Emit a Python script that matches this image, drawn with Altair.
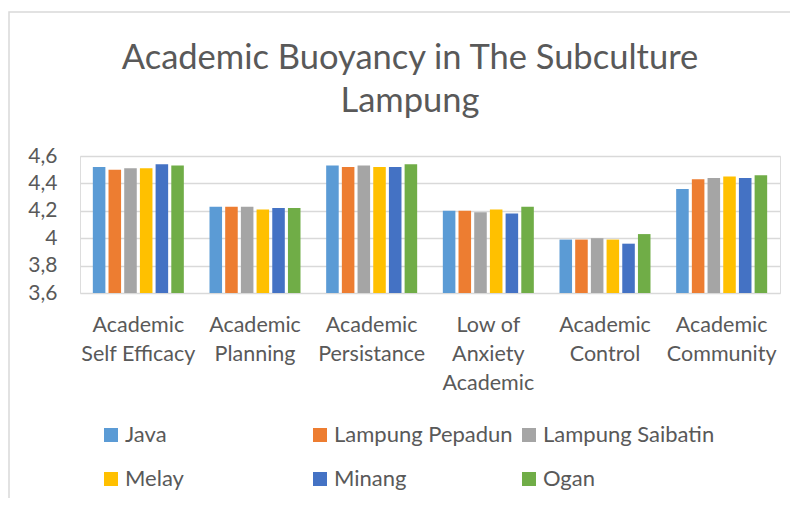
import altair as alt
import pandas as pd

title_lines = ["Academic Buoyancy in The Subculture", "Lampung"]
categories = ["Academic\nSelf Efficacy", "Academic\nPlanning", "Academic\nPersistance",
              "Low of\nAnxiety\nAcademic", "Academic\nControl", "Academic\nCommunity"]
series = ["Java", "Lampung Pepadun", "Lampung Saibatin", "Melay", "Minang", "Ogan"]
colors = ["#5B9BD5", "#ED7D31", "#A5A5A5", "#FFC000", "#4472C4", "#70AD47"]
y_ticks = [3.6, 3.8, 4.0, 4.2, 4.4, 4.6]

java = [4.52, 4.23, 4.53, 4.20, 3.99, 4.36]
lampung_pepadun = [4.50, 4.23, 4.52, 4.20, 3.99, 4.43]
lampung_saibatin = [4.51, 4.23, 4.53, 4.19, 4.00, 4.44]
melay = [4.51, 4.21, 4.52, 4.21, 3.99, 4.45]
minang = [4.54, 4.22, 4.52, 4.18, 3.96, 4.44]
ogan = [4.53, 4.22, 4.54, 4.23, 4.03, 4.46]

values = [java, lampung_pepadun, lampung_saibatin, melay, minang, ogan]
rows = []
for s, vals in zip(series, values):
    for c, v in zip(categories, vals):
        rows.append({"category": c, "series": s, "value": v, "base": y_ticks[0]})
df = pd.DataFrame(rows)

FONT = "Lato"
GRAY = "#595959"

bars = alt.Chart(df).mark_bar().encode(
    x=alt.X("category:N", sort=categories, title=None,
            scale=alt.Scale(paddingInner=0.22, paddingOuter=0.11),
            axis=alt.Axis(labelAngle=0, labelExpr="split(datum.value, '\\n')",
                          labelFontSize=21.5, labelColor=GRAY, labelFont=FONT,
                          labelPadding=21, labelLineHeight=29, ticks=False,
                          domain=False, grid=False, labelBaseline="top")),
    xOffset=alt.XOffset("series:N", sort=series, scale=alt.Scale(paddingInner=0.2)),
    y=alt.Y("value:Q", title=None,
            scale=alt.Scale(domain=[3.6, 4.6], zero=False, nice=False),
            axis=alt.Axis(values=y_ticks,
                          labelExpr="replace(format(datum.value, '.1~f'), '.', ',')",
                          labelFontSize=21, labelColor=GRAY, labelFont=FONT,
                          labelPadding=23, ticks=False, domain=False,
                          gridColor="#D9D9D9", gridWidth=1.5)),
    y2=alt.Y2("base:Q"),
    color=alt.Color("series:N", sort=series,
                    scale=alt.Scale(domain=series, range=colors),
                    legend=alt.Legend(title=None, orient="none", legendX=20, legendY=268,
                                      direction="horizontal",
                                      columns=3, gridAlign="all", symbolType="square",
                                      symbolSize=196, symbolStrokeWidth=0,
                                      labelFontSize=22, labelColor=GRAY, labelFont=FONT,
                                      columnPadding=5, rowPadding=22, labelOffset=3,
                                      labelLimit=300)),
)

border = alt.Chart(pd.DataFrame({"a": [0]})).mark_rect(
    fill=None, stroke="#D9D9D9", strokeWidth=1.5, clip=False
).encode(x=alt.value(-71), x2=alt.value(760), y=alt.value(-144), y2=alt.value(400))

title_df = pd.DataFrame({"line": title_lines, "idx": [0, 1]})
title1 = alt.Chart(title_df).transform_filter("datum.idx == 0").mark_text(
    font=FONT, fontSize=34.5, color=GRAY, align="center", baseline="alphabetic"
).encode(text="line:N", x=alt.value(330), y=alt.value(-87))
title2 = alt.Chart(title_df).transform_filter("datum.idx == 1").mark_text(
    font=FONT, fontSize=34.5, color=GRAY, align="center", baseline="alphabetic"
).encode(text="line:N", x=alt.value(330), y=alt.value(-44))

chart = alt.layer(border, bars, title1, title2).properties(
    width=700, height=137,
    padding={"left": 72, "top": 148, "right": 10, "bottom": 205},
    autosize=alt.AutoSizeParams(type="none"),
).configure_view(stroke=None).configure(background="white")

chart.save("out.html", embed_options={"renderer": "svg", "actions": False})
